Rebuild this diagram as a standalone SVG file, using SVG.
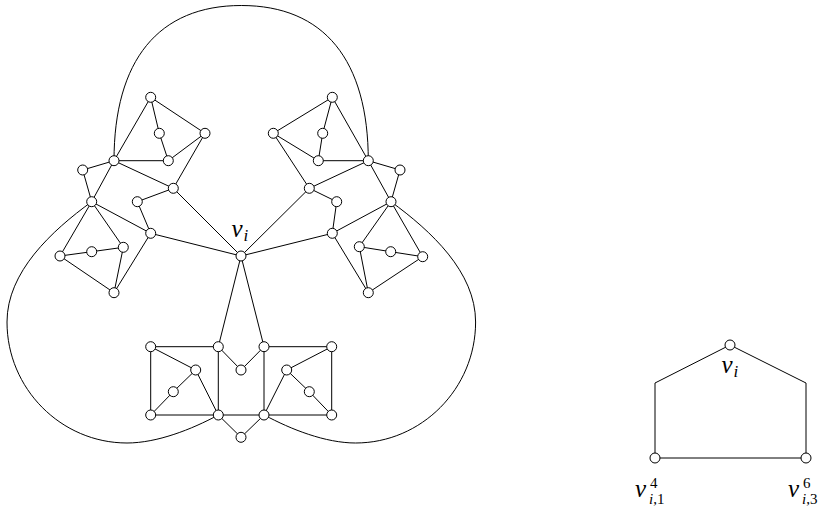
<svg xmlns="http://www.w3.org/2000/svg" width="824" height="507" viewBox="0 0 824 507">
<style>
.e{stroke:#000;stroke-width:1;fill:none}
.n{fill:#fff;stroke:#000;stroke-width:1}
text{font-family:'Liberation Serif','DejaVu Serif','Times New Roman',serif;fill:#000}
.v{font-style:italic}
</style>
<defs><circle id="c" r="5" class="n"/></defs>
<rect width="824" height="507" fill="#fff"/>
<g id="connectors" class="e">
<path d="M114,161 C114,60 158.5,5.5 241.3,5.5 C324.1,5.5 368.3,60 368.3,161"/>
<path d="M91.7,201.7 C51.5,231 7,272 7,322 C7,388.5 61,443 127,443 C157,443 191.6,429.4 218.3,415"/>
<path d="M391,201.7 C431.1,231 475.6,272 475.6,322 C475.6,388.5 421.6,443 355.6,443 C325.6,443 291,429.4 264.3,415"/>
<path d="M150.7,97.3L159.3,133.3L168.3,160.7L205,133.3L150.7,97.3L114,160.7L168.3,160.7 M205,133.3L173.3,188.3L114,160.7L82.7,170L91.7,201.7L114,160.7 M173.3,188.3L137.3,201.7L150.7,233.3L241,256L173.3,188.3 M91.7,201.7L150.7,233.3"/>
<path d="M332.3,97.3L322.7,133.3L318.3,160.7L273.3,133.3L332.3,97.3L368.3,160.7L318.3,160.7 M273.3,133.3L309.3,188.3L368.3,160.7L400,170L391,201.7L368.3,160.7 M309.3,188.3L336.7,201.7L332.3,233.3L241,256L309.3,188.3 M391,201.7L332.3,233.3"/>
<path d="M91.7,201.7L60,256L91.7,251.7L123.3,247.3L91.7,201.7 M60,256L114,292.7L123.3,247.3 M114,292.7L150.7,233.3"/>
<path d="M391,201.7L422.7,256.7L390.7,251.7L359.3,246.7L391,201.7 M422.7,256.7L368.3,292.7L359.3,246.7 M368.3,292.7L332.3,233.3"/>
<path d="M241,256L218.3,346.7 M241,256L264,346.7 M150.7,346.7L218.3,346.7L241,370L264,346.7L331.7,346.7L331.7,415L264,415L241,437.3L218.3,415L150.7,415L150.7,346.7 M218.3,346.7L218.3,415L264,415L264,346.7 M150.7,346.7L195.7,370L173.3,391.7L150.7,415 M195.7,370L218.3,415 M331.7,346.7L286.7,370L309.3,391.7L331.7,415 M286.7,370L264,415"/>
<path d="M730,345L655,383L655,458L806,458L806,383L730,345"/>
</g>
<g id="vi"><use href="#c" x="241" y="256"/></g>
<g id="A1"><use href="#c" x="150.7" y="97.3"/></g>
<g id="A2"><use href="#c" x="159.3" y="133.3"/></g>
<g id="A3"><use href="#c" x="205" y="133.3"/></g>
<g id="A4"><use href="#c" x="168.3" y="160.7"/></g>
<g id="A5"><use href="#c" x="114" y="160.7"/></g>
<g id="A6"><use href="#c" x="82.7" y="170"/></g>
<g id="A7"><use href="#c" x="91.7" y="201.7"/></g>
<g id="A8"><use href="#c" x="173.3" y="188.3"/></g>
<g id="A9"><use href="#c" x="137.3" y="201.7"/></g>
<g id="A10"><use href="#c" x="150.7" y="233.3"/></g>
<g id="B1"><use href="#c" x="60" y="256"/></g>
<g id="B2"><use href="#c" x="91.7" y="251.7"/></g>
<g id="B3"><use href="#c" x="123.3" y="247.3"/></g>
<g id="B4"><use href="#c" x="114" y="292.7"/></g>
<g id="C1"><use href="#c" x="332.3" y="97.3"/></g>
<g id="C2"><use href="#c" x="322.7" y="133.3"/></g>
<g id="C3"><use href="#c" x="273.3" y="133.3"/></g>
<g id="C4"><use href="#c" x="318.3" y="160.7"/></g>
<g id="C5"><use href="#c" x="368.3" y="160.7"/></g>
<g id="C6"><use href="#c" x="400" y="170"/></g>
<g id="C7"><use href="#c" x="391" y="201.7"/></g>
<g id="C8"><use href="#c" x="309.3" y="188.3"/></g>
<g id="C9"><use href="#c" x="336.7" y="201.7"/></g>
<g id="C10"><use href="#c" x="332.3" y="233.3"/></g>
<g id="D1"><use href="#c" x="359.3" y="246.7"/></g>
<g id="D2"><use href="#c" x="390.7" y="251.7"/></g>
<g id="D3"><use href="#c" x="422.7" y="256.7"/></g>
<g id="D4"><use href="#c" x="368.3" y="292.7"/></g>
<g id="E1"><use href="#c" x="150.7" y="346.7"/></g>
<g id="E2"><use href="#c" x="218.3" y="346.7"/></g>
<g id="E3"><use href="#c" x="264" y="346.7"/></g>
<g id="E4"><use href="#c" x="331.7" y="346.7"/></g>
<g id="E5"><use href="#c" x="241" y="370"/></g>
<g id="E6"><use href="#c" x="195.7" y="370"/></g>
<g id="E7"><use href="#c" x="286.7" y="370"/></g>
<g id="E8"><use href="#c" x="173.3" y="391.7"/></g>
<g id="E9"><use href="#c" x="309.3" y="391.7"/></g>
<g id="E10"><use href="#c" x="150.7" y="415"/></g>
<g id="E11"><use href="#c" x="218.3" y="415"/></g>
<g id="E12"><use href="#c" x="264" y="415"/></g>
<g id="E13"><use href="#c" x="331.7" y="415"/></g>
<g id="E14"><use href="#c" x="241" y="437.3"/></g>
<g id="label-vi"><text class="v" x="231.5" y="237" font-size="25">v</text><text class="v" x="243.5" y="240.5" font-size="17">i</text></g>
<g id="R-vi"><use href="#c" x="730" y="345"/><text class="v" x="721.5" y="373" font-size="25">v</text><text class="v" x="733.5" y="376.5" font-size="17">i</text></g>
<g id="R-v41"><use href="#c" x="655" y="458"/><text class="v" x="635" y="497" font-size="25">v</text><text x="650" y="487.5" font-size="15">4</text><text x="649" y="504" font-size="15"><tspan class="v">i</tspan>,1</text></g>
<g id="R-v63"><use href="#c" x="806" y="458"/><text class="v" x="788" y="497" font-size="25">v</text><text x="803" y="487.5" font-size="15">6</text><text x="802" y="504" font-size="15"><tspan class="v">i</tspan>,3</text></g>
</svg>
